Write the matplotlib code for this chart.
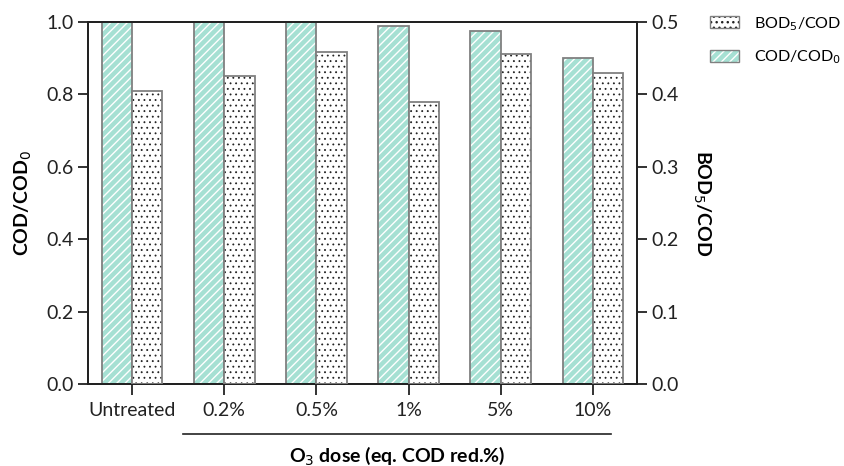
import matplotlib
matplotlib.use('Agg')
import matplotlib.pyplot as plt
from matplotlib.patches import Patch
from matplotlib.lines import Line2D
import numpy as np

plt.rcParams['font.family'] = ['Lato', 'DejaVu Sans']
plt.rcParams['hatch.linewidth'] = 1.0

categories = ['Untreated', '0.2%', '0.5%', '1%', '5%', '10%']
cod_ratio = [1.0, 1.0, 1.0, 0.99, 0.975, 0.90]
bod_cod = [0.405, 0.425, 0.458, 0.39, 0.455, 0.43]

teal = '#a6e0d3'
edge = '#808080'
fs = 14

fig = plt.figure(figsize=(8.44, 4.66), dpi=100)
ax = fig.add_axes([0.104, 0.176, 0.651, 0.777])
ax2 = ax.twinx()

x = np.arange(len(categories))
w = 0.33

# COD/COD0 bars: teal with white diagonal hatch, grey outline
ax.bar(x - w / 2, cod_ratio, w, color=teal, edgecolor='white', hatch='////', linewidth=0, zorder=2)
ax.bar(x - w / 2, cod_ratio, w, fill=False, edgecolor=edge, linewidth=1.3, zorder=3)

# BOD5/COD bars: white with small black dots, grey outline
dots = ax2.bar(x + w / 2, bod_cod, w, color='white', edgecolor='#222222', hatch='...', linewidth=0, zorder=2)
for p in dots:
    try:
        p.set_hatch_linewidth(0.6)
    except AttributeError:
        pass
ax2.bar(x + w / 2, bod_cod, w, fill=False, edgecolor=edge, linewidth=1.3, zorder=3)

ax.set_xlim(-0.48, len(categories) - 1 + 0.48)
ax.set_ylim(0, 1.0)
ax2.set_ylim(0, 0.5)
ax.set_yticks(np.arange(0, 1.01, 0.2))
ax2.set_yticks(np.arange(0, 0.51, 0.1))
ax.yaxis.set_major_formatter(matplotlib.ticker.FormatStrFormatter('%.1f'))
ax2.yaxis.set_major_formatter(matplotlib.ticker.FormatStrFormatter('%.1f'))

ax.set_xticks(x)
ax.set_xticklabels(categories)

for a in (ax, ax2):
    a.tick_params(axis='both', direction='out', length=7, width=1.3, labelsize=fs, colors='#222222', pad=3)
    for s in a.spines.values():
        s.set_linewidth(1.4)
        s.set_color('#222222')
ax.tick_params(axis='x', length=8, pad=5)

ax.set_ylabel('COD/COD$_0$', fontsize=fs, fontweight='bold', labelpad=9)
ax2.set_ylabel('BOD$_5$/COD', fontsize=fs, fontweight='bold', rotation=270, labelpad=24)

# bracket line below the ozonated samples
ax.add_line(Line2D([0.55, 5.2], [-0.138, -0.138], transform=ax.get_xaxis_transform(),
                   color='#222222', linewidth=1.2, clip_on=False))
ax.text(2.88, -0.168, 'O$_3$ dose (eq. COD red.%)', transform=ax.get_xaxis_transform(),
        ha='center', va='top', fontsize=fs, fontweight='bold')

h_bod = (Patch(facecolor='white', edgecolor='#222222', hatch='...', linewidth=0),
         Patch(fill=False, edgecolor=edge, linewidth=1.0))
h_cod = (Patch(facecolor=teal, edgecolor='white', hatch='////', linewidth=0),
         Patch(fill=False, edgecolor=edge, linewidth=1.0))
fig.legend([h_bod, h_cod], ['BOD$_5$/COD', 'COD/COD$_0$'], loc='upper left',
           bbox_to_anchor=(0.838, 0.975), frameon=False, fontsize=11.5, borderpad=0.2,
           borderaxespad=0, handlelength=1.8, handleheight=0.8, labelspacing=1.0,
           handletextpad=0.9)

fig.savefig('out.png', dpi=100)
